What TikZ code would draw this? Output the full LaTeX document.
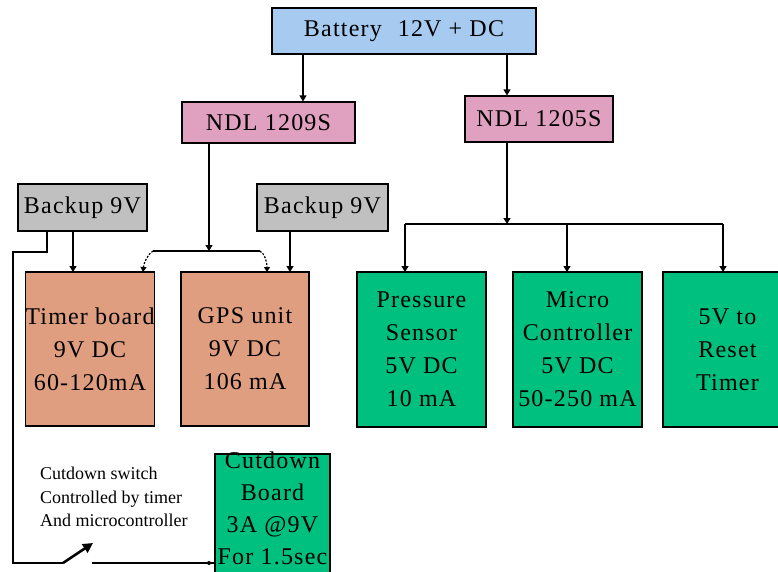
\documentclass[tikz,border=0pt]{standalone}
\usepackage{fontspec}
\setmainfont{Liberation Serif}[LetterSpace=5]
\newfontfamily\plainserif{Liberation Serif}
\usetikzlibrary{arrows.meta}
\definecolor{batblue}{HTML}{A6CAF0}
\definecolor{ndlpink}{HTML}{E0A0C0}
\definecolor{bkgray}{HTML}{C0C0C0}
\definecolor{salmon}{HTML}{E09E80}
\definecolor{boardgreen}{HTML}{00C080}
\begin{document}
\begin{tikzpicture}[x=1pt,y=-1pt,
  box/.style={draw=black,line width=1.2pt,inner sep=0pt,align=center,
    font=\fontsize{24}{33}\selectfont},
  wire/.style={draw=black,line width=1.2pt},
  arr/.style={wire,-{Triangle[length=6pt,width=7pt]}},
  dotarr/.style={wire,dash pattern=on 2pt off 1.5pt,-{Triangle[length=5pt,width=6pt]}}]
\useasboundingbox (0,0) rectangle (778,571);

% boxes
\node[box,fill=batblue,minimum width=264pt,minimum height=46pt] (bat) at (404,31) {Battery\hspace{16pt}12V + DC};
\node[box,fill=ndlpink,minimum width=173pt,minimum height=41pt] (ndl9) at (268.5,122.5) {NDL 1209S};
\node[box,fill=ndlpink,minimum width=148pt,minimum height=46pt] (ndl5) at (539,119) {NDL 1205S};
\node[box,fill=bkgray,minimum width=129pt,minimum height=47pt] (bk1) at (82.5,207.5) {Backup 9V};
\node[box,fill=bkgray,minimum width=131pt,minimum height=47pt] (bk2) at (322.5,207.5) {Backup 9V};
\node[box,fill=salmon,minimum width=126pt,minimum height=154pt] (timer) at (90,349) {Timer board\\9V DC\\60-120mA};
\node[box,fill=salmon,minimum width=128pt,minimum height=154pt] (gps) at (245,349) {GPS unit\\9V DC\\106 mA};
\node[box,fill=boardgreen,minimum width=129pt,minimum height=155pt] (press) at (421.5,349.5) {Pressure\\Sensor\\5V DC\\10 mA};
\node[box,fill=boardgreen,minimum width=129pt,minimum height=155pt] (micro) at (577.5,349.5) {Micro\\Controller\\5V DC\\50-250 mA};
\node[box,fill=boardgreen,minimum width=129pt,minimum height=155pt] (reset) at (727.5,349.5) {5V to\\Reset\\Timer};
\node[box,fill=boardgreen,minimum width=115pt,minimum height=122pt] (cut) at (272.5,515) {};
\node[inner sep=0pt,align=center,font=\fontsize{24}{32}\selectfont] (cuttext) at (272.5,508) {Cutdown\\Board\\3A @9V\\For 1.5sec};

\node[inner sep=0pt,anchor=north west,align=left,font=\plainserif\fontsize{18}{23.5}\selectfont] (swtext) at (40,467) {Cutdown switch\\Controlled by timer\\And microcontroller};

% coordinates
\coordinate (b9) at (303,54);
\coordinate (b5) at (507,54);
\coordinate (n9) at (209,143);
\coordinate (j9) at (209,251);
\coordinate (hl) at (153,251);
\coordinate (hr) at (260,251);
\coordinate (tin) at (143,272);
\coordinate (gin) at (267,272);
\coordinate (n5) at (507,142);
\coordinate (j5) at (507,224);
\coordinate (r1) at (405,224);
\coordinate (r2) at (567,224);
\coordinate (r3) at (723,224);
\coordinate (p1) at (405,272);
\coordinate (p2) at (567,272);
\coordinate (p3) at (723,272);
\coordinate (k1) at (73,231);
\coordinate (t1) at (73,272);
\coordinate (k2) at (290,231);
\coordinate (g2) at (290,272);
\coordinate (w0) at (47,231);
\coordinate (w1) at (47,252);
\coordinate (w2) at (13,252);
\coordinate (w3) at (13,563);
\coordinate (w4) at (63,563);
\coordinate (sw) at (93,543);
\coordinate (w5) at (92,563);
\coordinate (dot) at (209,563);
\coordinate (cin) at (215,563);

% connectors
\draw[arr] (b9) -- (b9 |- ndl9.north);
\draw[arr] (b5) -- (b5 |- ndl5.north);
\draw[arr] (n9) -- (j9);
\draw[wire] (hl) -- (hr);
\draw[dotarr] (hl) .. controls (148,254) and (144,262) .. (tin);
\draw[dotarr] (hr) .. controls (265,254) and (267,262) .. (gin);
\draw[arr] (n5) -- (j5);
\draw[wire] (r1) -- (r3);
\draw[arr] (r1) -- (p1);
\draw[arr] (r2) -- (p2);
\draw[arr] (r3) -- (p3);
\draw[arr] (k1) -- (t1);
\draw[arr] (k2) -- (g2);
\draw[wire] (w0) -- (w1) -- (w2) -- (w3) -- (w4);
\draw[line width=2.6pt,-{Triangle[length=10pt,width=10pt]}] (w4) -- (sw);
\draw[wire] (w5) -- (cin);
\fill (dot) circle (2pt);
\end{tikzpicture}
\end{document}
